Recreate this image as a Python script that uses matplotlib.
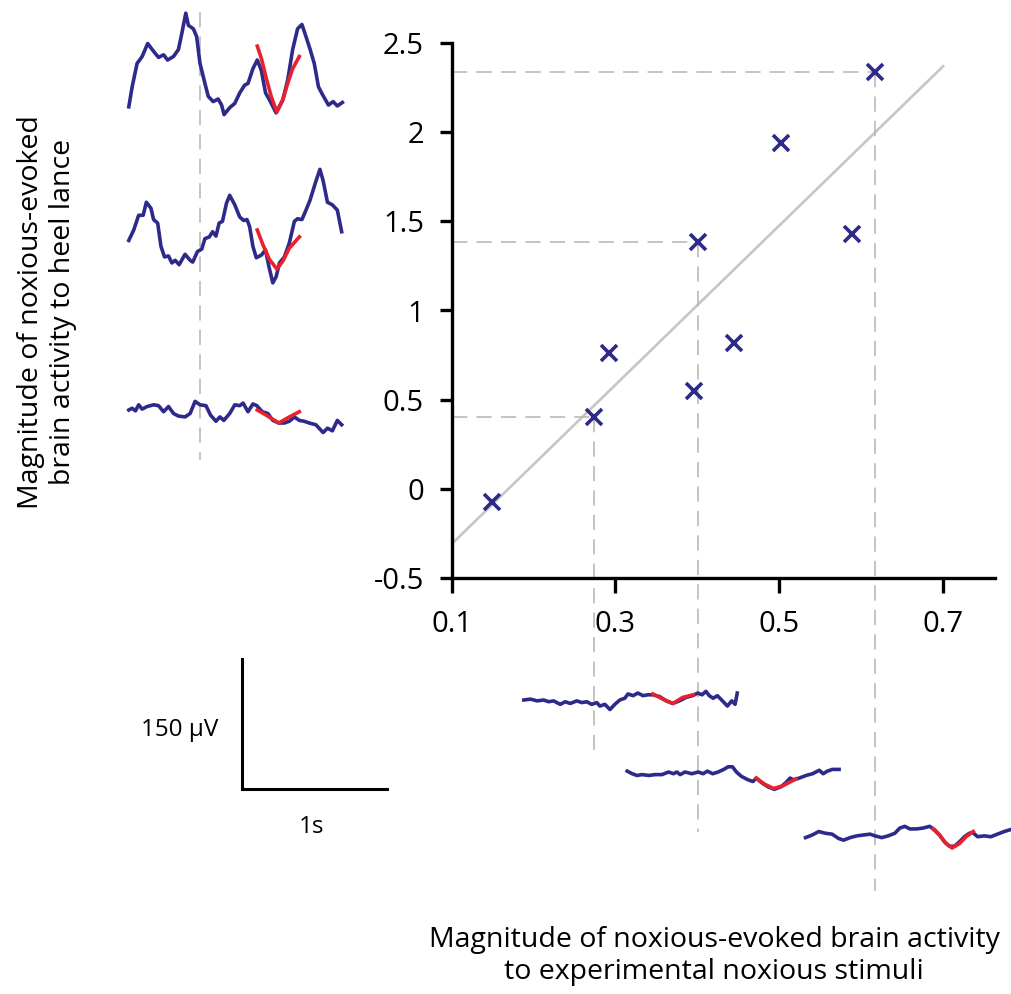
import numpy as np
import matplotlib.pyplot as plt

# magnitudes per infant (x: experimental stimulus, y: heel lance)
stim_mag = [0.149, 0.274, 0.292, 0.396, 0.401, 0.445, 0.502, 0.589, 0.617]
heel_mag = [-0.071, 0.405, 0.764, 0.551, 1.386, 0.820, 1.937, 1.430, 2.338]
example_idx = [1, 4, 8]  # infants whose traces are shown
x_ticks = [0.1, 0.3, 0.5, 0.7]
y_ticks = [-0.5, 0, 0.5, 1, 1.5, 2, 2.5]
y_tick_labels = ['-0.5', '0', '0.5', '1', '1.5', '2', '2.5']

# heel lance traces (time in s from stimulus, amplitude in uV)
heel_hi_t = [-0.491, -0.468, -0.434, -0.399, -0.361, -0.320, -0.286, -0.251, -0.224, -0.183,
             -0.149, -0.125, -0.098, -0.080, -0.046, -0.023, 0.0, 0.034, 0.057, 0.091,
             0.125, 0.149, 0.166, 0.205, 0.240, 0.274, 0.308, 0.331, 0.365, 0.395,
             0.423, 0.452, 0.479, 0.525, 0.571, 0.605, 0.639, 0.673, 0.703, 0.731,
             0.758, 0.788, 0.817, 0.845, 0.886, 0.918, 0.947, 0.982]
heel_hi_uv = [-54, -31, -4, 4, 19, 10, 3, 6, 0, 4,
              12, 31, 54, 40, 36, 27, -4, -27, -42, -48,
              -45, -52, -63, -55, -50, -38, -29, -27, -10, 0,
              -12, -38, -46, -61, -46, -23, 12, 36, 41, 27,
              13, -4, -31, -40, -52, -48, -53, -49]
heel_hi_fit_t = [0.395, 0.423, 0.457, 0.491, 0.530, 0.571, 0.605, 0.639, 0.685]
heel_hi_fit_uv = [16, 2, -21, -42, -60, -46, -27, -10, 4]

heel_mid_t = [-0.491, -0.457, -0.423, -0.392, -0.370, -0.338, -0.320, -0.292, -0.269, -0.245,
              -0.217, -0.194, -0.171, -0.144, -0.103, -0.068, -0.050, -0.018, 0.012, 0.034,
              0.064, 0.087, 0.110, 0.132, 0.155, 0.183, 0.205, 0.240, 0.274, 0.301,
              0.324, 0.342, 0.365, 0.388, 0.423, 0.452, 0.475, 0.502, 0.525, 0.548,
              0.582, 0.616, 0.651, 0.673, 0.703, 0.731, 0.758, 0.795, 0.827, 0.849,
              0.879, 0.913, 0.947, 0.977]
heel_mid_uv = [-12, 0, 17, 17, 32, 25, 12, 8, -19, -31,
               -30, -38, -35, -40, -28, -35, -37, -25, -22, -10,
               -8, -2, -7, 8, 10, 31, 40, 29, 15, 11,
               12, 4, -19, -32, -29, -23, -42, -61, -54, -38,
               -31, -15, 10, 13, 12, 23, 34, 54, 70, 57,
               32, 29, 23, -2]
heel_mid_fit_t = [0.395, 0.434, 0.479, 0.530, 0.571, 0.616, 0.685]
heel_mid_fit_uv = [0, -17, -34, -45, -36, -21, -8]

heel_lo_t = [-0.491, -0.468, -0.445, -0.423, -0.399, -0.365, -0.320, -0.286, -0.251, -0.217,
             -0.183, -0.149, -0.103, -0.068, -0.034, 0.0, 0.041, 0.073, 0.110, 0.137,
             0.164, 0.205, 0.240, 0.274, 0.297, 0.331, 0.365, 0.392, 0.429, 0.468,
             0.502, 0.543, 0.582, 0.616, 0.651, 0.685, 0.719, 0.753, 0.799, 0.849,
             0.879, 0.913, 0.947, 0.977]
heel_lo_uv = [0, 2, -1, 6, 1, 4, 6, 5, -2, 4,
              -4, -7, -8, -4, 10, 6, 5, -6, -13, -8,
              -12, -4, 6, 5, 8, -2, 7, 5, -2, -4,
              -12, -15, -15, -13, -8, -12, -13, -15, -17, -26,
              -21, -24, -12, -17]
heel_lo_fit_t = [0.395, 0.457, 0.543, 0.616, 0.685]
heel_lo_fit_uv = [0, -6, -15, -8, -2]

# experimental stimulus traces
exp_lo_t = [-0.491, -0.445, -0.399, -0.354, -0.320, -0.286, -0.240, -0.205, -0.171, -0.125,
            -0.091, -0.057, -0.023, 0.012, 0.034, 0.068, 0.103, 0.137, 0.171, 0.205,
            0.228, 0.262, 0.296, 0.331, 0.365, 0.399, 0.445, 0.491, 0.536, 0.582,
            0.628, 0.673, 0.708, 0.738, 0.765, 0.788, 0.815, 0.844, 0.879, 0.913,
            0.943, 0.966, 0.981]
exp_lo_uv = [0, 1, -1, 0, -2, -1, -5, -2, -4, -1,
             -3, -2, -5, -3, -7, -5, -11, -5, 0, 2,
             7, 5, 8, 5, 6, 6, 4, -1, -4, -1,
             3, 5, 8, 6, 10, 5, 2, 5, -1, -7,
             -1, -5, 8]
exp_lo_fit_t = [0.399, 0.468, 0.536, 0.605, 0.678]
exp_lo_fit_uv = [7, 1, -4, 3, 6]

exp_mid_t = [-0.488, -0.454, -0.420, -0.386, -0.340, -0.295, -0.249, -0.203, -0.169, -0.146,
             -0.123, -0.089, -0.043, 0.002, 0.036, 0.064, 0.101, 0.139, 0.178, 0.208,
             0.238, 0.265, 0.299, 0.345, 0.379, 0.402, 0.436, 0.482, 0.527, 0.573,
             0.608, 0.635, 0.658, 0.699, 0.745, 0.790, 0.836, 0.863, 0.892, 0.927,
             0.973]
exp_mid_uv = [1, -2, -4, -3, -4, -3, -3, 0, -2, 0,
              -3, 0, -2, 0, -2, 1, -2, 0, 3, 6,
              6, 0, -5, -9, -11, -7, -12, -17, -20, -17,
              -12, -7, -9, -7, -4, -2, 2, -2, 1, 3,
              3]
exp_mid_fit_t = [0.402, 0.459, 0.521, 0.584, 0.676]
exp_mid_fit_uv = [-7, -14, -19, -16, -8]

exp_hi_t = [-0.486, -0.440, -0.395, -0.349, -0.303, -0.258, -0.224, -0.178, -0.132, -0.087,
            -0.041, -0.007, 0.039, 0.084, 0.130, 0.164, 0.199, 0.233, 0.279, 0.324,
            0.370, 0.404, 0.438, 0.473, 0.507, 0.541, 0.575, 0.610, 0.644, 0.666,
            0.701, 0.747, 0.792, 0.838, 0.884, 0.923]
exp_hi_uv = [-3, 0, 4, 2, 1, -4, -6, -3, -1, 0,
             1, -1, -3, -1, 2, 8, 10, 7, 7, 8,
             10, 6, 0, -8, -13, -13, -8, -2, 2, 3,
             -2, -1, -2, 1, 4, 6]
exp_hi_fit_t = [0.393, 0.438, 0.484, 0.525, 0.575, 0.621, 0.671]
exp_hi_fit_uv = [7, 0, -10, -15, -10, -2, 4]

W, H = 1012, 994
PX_PER_S = 145.0
PX_PER_UV = 130.0 / 150.0
NAVY = '#2d2a8a'
RED = '#e8212b'
GUIDE = '#b4b4b4'
TRACE_LW = 2.6

plt.rcParams['font.family'] = ['Open Sans', 'DejaVu Sans']

fig = plt.figure(figsize=(W / 100, H / 100), dpi=100)

# ---- scatter ----
ax = fig.add_axes([451.7 / W, 1 - 578.3 / H, 543.3 / W, 535.6 / H])
ax.set_xlim(0.1, 0.1 + 543.3 / 819)
ax.set_ylim(-0.5, 2.5)

slope, icpt = np.polyfit(stim_mag, heel_mag, 1)
fx = np.array([0.1, 0.7])
ax.plot(fx, slope * fx + icpt, color='#c6c6c6', lw=1.9, zorder=1)

guide_bottom = [-1.5, -1.92, -2.25]
for i, yb in zip(example_idx, guide_bottom):
    ax.plot([0.1, stim_mag[i]], [heel_mag[i], heel_mag[i]], color=GUIDE, lw=1.1,
            dashes=(10, 6), zorder=1)
    ax.plot([stim_mag[i], stim_mag[i]], [heel_mag[i], yb], color=GUIDE, lw=1.1,
            dashes=(10, 6), zorder=1, clip_on=False)

ax.plot(stim_mag, heel_mag, 'x', color=NAVY, ms=11, mew=2.6, zorder=3, clip_on=False)

for s in ['top', 'right']:
    ax.spines[s].set_visible(False)
for s in ['left', 'bottom']:
    ax.spines[s].set_linewidth(2.4)
ax.set_xticks(x_ticks)
ax.set_xticklabels([f'{v:g}' for v in x_ticks])
ax.set_yticks(y_ticks)
ax.set_yticklabels(y_tick_labels)
ax.tick_params(axis='x', length=11, width=2.4, pad=12, labelsize=21)
ax.tick_params(axis='y', length=9, width=2.4, pad=11, labelsize=21)
ax.patch.set_alpha(0)


def trace_axes(x0, y0):
    # invisible full-figure axes in s / uV with stimulus onset at pixel (x0, y0)
    a = fig.add_axes([0, 0, 1, 1])
    a.set_xlim(-x0 / PX_PER_S, (W - x0) / PX_PER_S)
    a.set_ylim(-(H - y0) / PX_PER_UV, y0 / PX_PER_UV)
    a.axis('off')
    return a


# ---- heel lance traces (left) ----
left = [(heel_hi_t, heel_hi_uv, heel_hi_fit_t, heel_hi_fit_uv, 60),
        (heel_mid_t, heel_mid_uv, heel_mid_fit_t, heel_mid_fit_uv, 230),
        (heel_lo_t, heel_lo_uv, heel_lo_fit_t, heel_lo_fit_uv, 410)]
for k, (t, v, ft, fv, y0) in enumerate(left):
    a = trace_axes(200, y0)
    if k == 0:
        a.plot([0, 0], [48 / PX_PER_UV, -400 / PX_PER_UV], color=GUIDE, lw=1.1,
               dashes=(10, 6), zorder=1)
    a.plot(t, v, color=NAVY, lw=TRACE_LW, zorder=2, solid_joinstyle='round')
    a.plot(ft, fv, color=RED, lw=TRACE_LW, zorder=3, solid_joinstyle='round')

# ---- experimental stimulus traces (bottom) ----
bottom = [(exp_lo_t, exp_lo_uv, exp_lo_fit_t, exp_lo_fit_uv, 595, 700),
          (exp_mid_t, exp_mid_uv, exp_mid_fit_t, exp_mid_fit_uv, 698, 772),
          (exp_hi_t, exp_hi_uv, exp_hi_fit_t, exp_hi_fit_uv, 876, 835)]
for t, v, ft, fv, x0, y0 in bottom:
    a = trace_axes(x0, y0)
    a.plot(t, v, color=NAVY, lw=TRACE_LW, zorder=2, solid_joinstyle='round')
    a.plot(ft, fv, color=RED, lw=TRACE_LW, zorder=3, solid_joinstyle='round')

# ---- scale bar ----
sb = trace_axes(241.7, 789.3)
sb.plot([0, 0, 1], [150, 0, 0], color='black', lw=2.2, solid_joinstyle='miter')

fig.text(180 / W, 1 - 730 / H, '150 µV', ha='center', va='center', fontsize=17.5)
fig.text(312 / W, 1 - 827 / H, '1s', ha='center', va='center', fontsize=17.5)

fig.text(714 / W, 1 - 956 / H,
         'Magnitude of noxious-evoked brain activity\nto experimental noxious stimuli',
         ha='center', va='center', fontsize=20.5, multialignment='center')
fig.text(47 / W, 1 - 312 / H,
         'Magnitude of noxious-evoked\nbrain activity to heel lance',
         ha='center', va='center', rotation=90, fontsize=20.5, multialignment='center')

fig.savefig('out.png', dpi=100)
